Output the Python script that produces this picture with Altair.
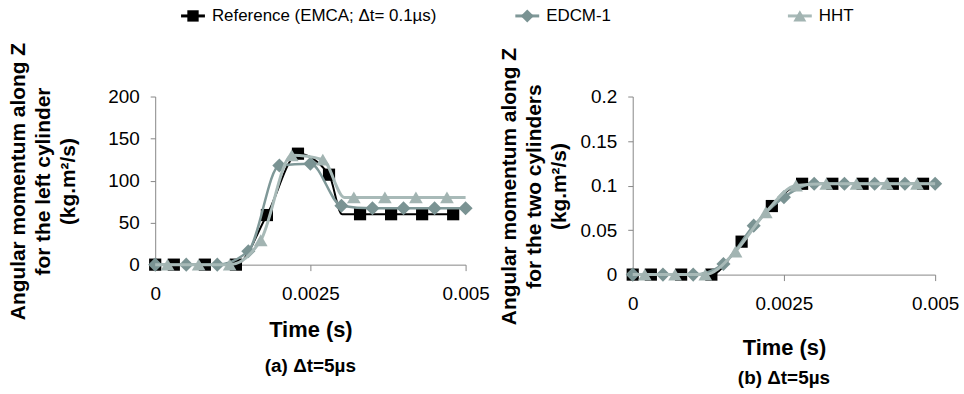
import altair as alt
import pandas as pd

SERIES = ["Reference (EMCA; \u0394t= 0.1\u00b5s)", "EDCM-1", "HHT"]
MARK_COLORS = ["#000000", "#7a9393", "#a2b4b2"]
LINE_COLORS = ["#000000", "#7f9898", "#a8bab8"]
SHAPES = ["square", "diamond", "triangle-up"]

X_TICKS = [0, 0.0025, 0.005]
Y_TICKS_A = [0, 50, 100, 150, 200]
Y_TICKS_B = [0, 0.05, 0.1, 0.15, 0.2]

# marker times (s)
T_REF = [0, 0.0003, 0.0008, 0.0013, 0.0018, 0.0023, 0.0028, 0.0033, 0.0038, 0.0043, 0.0048]
T_EDCM = [0, 0.0005, 0.001, 0.0015, 0.002, 0.0025, 0.003, 0.0035, 0.004, 0.0045, 0.005]
T_HHT = [0.0002, 0.0007, 0.0012, 0.0017, 0.0022, 0.0027, 0.0032, 0.0037, 0.0042, 0.0047]

# (a) left cylinder
A_REF = [0, 0, 0, 0, 59, 132, 107, 60, 60, 60, 60]
A_EDCM = [0, 0, 0, 16, 118, 120, 70, 67, 67, 67, 67]
A_HHT = [0, 0, 0, 29, 130, 125, 80, 80, 80, 80]

# (b) two cylinders
B_REF = [0, 0, 0, 0, 0.037, 0.077, 0.102, 0.102, 0.102, 0.102, 0.102]
B_EDCM = [0, 0, 0, 0.012, 0.055, 0.087, 0.102, 0.102, 0.102, 0.102, 0.102]
B_HHT = [0, 0, 0, 0.026, 0.070, 0.100, 0.102, 0.102, 0.102, 0.102]

# curve-only points (no marker)
A_REF_CURVE_T = [0.00301]
A_REF_CURVE = [60]
A_HHT_CURVE_T = [0, 0.00305, 0.005]
A_HHT_CURVE = [0, 80, 80]
B_HHT_CURVE_T = [0, 0.005]
B_HHT_CURVE = [0, 0.102]

LEGEND_X = [38, 374, 648]


def frame(marker_sets, curve_sets):
    rows = []
    for name, ts, vs in marker_sets:
        rows += [dict(series=name, t=t, v=v, marker=True) for t, v in zip(ts, vs)]
    for name, ts, vs in curve_sets:
        rows += [dict(series=name, t=t, v=v, marker=False) for t, v in zip(ts, vs)]
    return pd.DataFrame(rows)


df_a = frame(
    [(SERIES[0], T_REF, A_REF), (SERIES[1], T_EDCM, A_EDCM), (SERIES[2], T_HHT, A_HHT)],
    [(SERIES[0], A_REF_CURVE_T, A_REF_CURVE), (SERIES[2], A_HHT_CURVE_T, A_HHT_CURVE)],
)
df_b = frame(
    [(SERIES[0], T_REF, B_REF), (SERIES[1], T_EDCM, B_EDCM), (SERIES[2], T_HHT, B_HHT)],
    [(SERIES[2], B_HHT_CURVE_T, B_HHT_CURVE)],
)

AXIS_GRAY = "#868686"
FONT = "Liberation Sans"


def panel(df, y_ticks, y_fmt, y_title, sub, width, height, title_x, title_y,
          x_title_pad, sub_offset):
    x = alt.X(
        "t:Q",
        scale=alt.Scale(domain=[0, 0.005], nice=False, zero=False),
        axis=alt.Axis(values=X_TICKS, format=".4~f", title="Time (s)",
                      titlePadding=x_title_pad, titleFontSize=22,
                      labelPadding=14, tickSize=6, labelFlush=False),
    )
    y = alt.Y(
        "v:Q",
        scale=alt.Scale(domain=[y_ticks[0], y_ticks[-1]], nice=False),
        axis=alt.Axis(values=y_ticks, format=y_fmt, title=y_title, titleX=title_x,
                      titleY=title_y, titleBaseline="top", titleAlign="center",
                      titleAngle=270, labelPadding=11, tickSize=5, labelFlush=False),
    )
    layers = []
    for i, name in enumerate(SERIES):
        d = df[df.series == name].sort_values("t")
        layers.append(
            alt.Chart(d).mark_line(interpolate="monotone", color=LINE_COLORS[i],
                                   strokeWidth=[2, 2.5, 3][i]).encode(x=x, y=y)
        )
        layers.append(
            alt.Chart(d[d.marker]).mark_point(shape=SHAPES[i], filled=True, opacity=1,
                                              size=[150, 200, 190][i],
                                              color=MARK_COLORS[i]).encode(x=x, y=y)
        )
    return alt.layer(*layers).properties(
        width=width,
        height=height,
        title=alt.TitleParams(sub, orient="bottom", anchor="middle", fontSize=19,
                              fontWeight="bold", font=FONT, offset=sub_offset),
    )


left = panel(df_a, Y_TICKS_A, ".0f",
             ["Angular momentum along Z", "for the left cylinder", "(kg.m\u00b2/s)"],
             "(a) \u0394t=5\u00b5s", 312, 169, -148, 85, 16, 17)
right = panel(df_b, Y_TICKS_B, ".2~f",
              ["Angular momentum along Z", "for the two cylinders", "(kg.m\u00b2/s)"],
              "(b) \u0394t=5\u00b5s", 304, 179, -135, 90, 24, 11)

leg_df = pd.DataFrame({"series": SERIES})
leg_layers = []
for i, name in enumerate(SERIES):
    d = leg_df[leg_df.series == name]
    px = LEGEND_X[i]
    base = alt.Chart(d)
    leg_layers.append(
        base.mark_rule(color=LINE_COLORS[i], strokeWidth=3).encode(
            x=alt.value(px - 12), x2=alt.value(px + 12), y=alt.value(10))
    )
    leg_layers.append(
        base.mark_point(shape=SHAPES[i], filled=True, opacity=1, size=[130, 170, 170][i],
                        color=MARK_COLORS[i]).encode(x=alt.value(px), y=alt.value(10))
    )
    leg_layers.append(
        base.mark_text(align="left", baseline="middle", fontSize=17, font=FONT,
                       color="#000000").encode(x=alt.value(px + 19), y=alt.value(10),
                                               text="series:N")
    )
legend = alt.layer(*leg_layers).properties(width=782, height=20)

chart = alt.vconcat(
    legend,
    alt.hconcat(left, right, spacing=168, bounds="flush"),
    spacing=71,
    bounds="flush",
).properties(
    padding={"left": 7, "top": 5, "right": 5, "bottom": 5},
    background="#ffffff",
).configure_view(stroke=None).configure_axis(
    grid=False,
    domainColor=AXIS_GRAY,
    tickColor=AXIS_GRAY,
    labelColor="#000000",
    titleColor="#000000",
    labelFont=FONT,
    titleFont=FONT,
    labelFontSize=19,
    titleFontSize=21,
    titleFontWeight="bold",
    titleLineHeight=25,
    labelFontWeight="normal",
)

chart.save("out.html", embed_options={"renderer": "svg", "actions": False})
